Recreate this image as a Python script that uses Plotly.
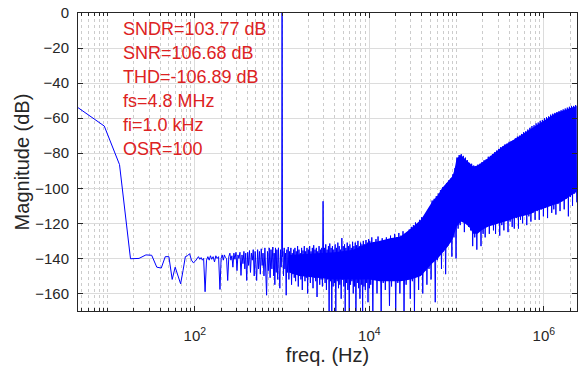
import numpy as np
import plotly.graph_objects as go

# ---------------- data ----------------
F_MIN = 4.578      # first FFT bin (Hz)
F_MAX = 2.4e6      # fs/2 (Hz)

# smooth low-frequency part (bins) : frequency (Hz), magnitude (dB)
low_f = [4.58, 9.16, 13.7, 18.3, 22.9, 27.5, 32.0, 36.6, 41.2, 45.8, 50.4,
         55.0, 59.5, 64.1, 68.7, 73.2, 77.8, 82.4, 87.0, 91.5, 96.1, 100.7]
low_db = [-54, -64.5, -86.5, -140.2, -140, -138, -138.2, -145, -145.5, -139,
          -139, -152, -145, -150, -154.5, -147, -139, -138.5, -137.3, -141,
          -142.5, -141.7]

# 100 Hz .. 1 kHz noise floor and the 1 kHz signal tone
mid_f = [110, 114, 118, 122, 126, 131, 136, 141, 146, 151, 156, 162, 168, 174,
         180, 187, 194, 200, 206, 212, 218, 224, 231, 238, 245, 252, 259, 266,
         273, 280, 288, 296, 304, 312, 320, 329, 338, 347, 356, 365, 374, 383,
         393, 403, 413, 423, 434, 445, 456, 467, 479, 491, 503, 511, 524, 537,
         550, 563, 577, 591, 605, 620, 635, 650, 664, 680, 696, 712, 729, 746,
         764, 782, 800, 812, 826, 840, 856, 872, 890, 908, 925, 942, 960, 975,
         990, 1000, 1010]
mid_db = [-139, -140.5, -139.5, -141, -140, -159, -141, -139, -141, -138.5,
          -140.5, -139, -142, -138.5, -140, -139, -157.7, -140, -138, -141,
          -138, -139.5, -140, -152.6, -139, -137, -141, -138.5, -145, -137,
          -140.5, -136.5, -147, -138, -140, -136.5, -149.7, -138, -143, -136,
          -146, -137, -152.6, -136.5, -144, -135.5, -148, -137, -141, -135,
          -150, -136, -143, -152.6, -135, -146, -136, -149, -134.5, -144,
          -137, -150, -134, -145, -161, -136, -147, -134, -151, -135, -146,
          -133.5, -150, -137, -155, -134, -148, -135, -152, -134, -146, -157,
          -135, -145, -138, 0, -139]

# 1 kHz .. 10 kHz : upper / lower excursions of the noise (dB)
c_start, c_stop = 1.02e3, 1.0e4
c_hi = [-136, -134, -137, -135, -133.5, -136, -134, -137, -135, -134,
        -136, -133, -135, -137, -134, -135.5, -133, -136, -134, -135,
        -133, -136, -134, -132.5, -135, -134, -136, -133, -135, -134,
        -107.4, -134, -132, -135, -133, -131.5, -134, -133, -135, -132,
        -134, -131, -133, -135, -128.4, -133, -132, -134, -131, -133,
        -132, -134, -130.5, -133, -131, -132.5, -130, -133, -131, -132,
        -130, -132, -129.5, -131, -129]
c_lo = [-150, -146, -161, -148, -152, -147, -155, -149, -151, -153,
        -148, -156, -150, -152, -158, -149, -153, -151, -160, -150,
        -154, -149, -157, -151, -153, -162, -150, -155, -152, -156,
        -151, -154, -158, -152, -170, -153, -170, -156, -154, -170,
        -153, -157, -155, -163, -152, -156, -170, -154, -158, -170,
        -155, -153, -160, -156, -170, -154, -157, -163, -155, -170,
        -156, -158, -154, -165, -157]

# 10 kHz .. 2.4 MHz : shaped quantisation noise, upper / lower excursions (dB)
d_start, d_stop = 1.01e4, 2.38e6
d_hi = [-130, -128, -131, -129, -127.5, -130, -128.5, -131, -128, -129.5,
        -127, -129, -126, -128, -125.5, -127, -124.5, -126, -125, -123.5,
        -122, -121, -119.5, -120, -118, -116.5, -117, -114.5, -113, -111,
        -107, -106, -104.5, -103, -101, -99.5, -99, -97, -95.5, -94.5,
        -92, -88.5, -82.5, -81, -80.5, -81.5, -82.5, -84, -85.5, -86,
        -87, -88, -86.5, -86, -85, -84, -83.5, -82, -81.5, -80.5,
        -79.5, -78.5, -77.5, -76.5, -76, -75, -74.5, -73.5, -73, -72.5,
        -71.5, -70.5, -70, -69, -68, -67.5, -66.5, -65.5, -64.5, -64,
        -63, -62.5, -61.5, -61, -60, -59.5, -59, -58, -57.5, -57,
        -56.5, -56, -55.5, -55, -54.5, -54, -53.5, -53, -53, -52.5]
d_lo = [-155, -170, -152, -160, -150, -170, -154, -158, -151, -167,
        -156, -152, -170, -154, -160, -152, -170, -155, -151, -163,
        -153, -170, -150, -158, -149, -160, -147, -155, -146, -152,
        -142, -165, -141, -138, -146, -136, -149, -133, -131, -139,
        -128, -140, -123, -121, -118, -125, -120, -122, -124, -133,
        -128, -135, -124, -133, -126, -128, -122, -126, -120, -124,
        -126, -119, -127, -121, -124, -118, -125, -119, -122, -123,
        -117, -123, -118, -120, -115, -121, -116, -119, -114, -118,
        -113, -118, -112, -116, -111, -117, -110, -114, -112, -115,
        -109, -113, -107, -112, -106, -116, -105, -110, -103, -108]

# solid core of the noise band: frequency (Hz), top and bottom (dB)
band_f = [1.2e3, 1.6e3, 2.5e3, 4e3, 6.5e3, 10e3, 13.1e3, 17.3e3, 22.8e3, 30e3,
          39e3, 52e3, 61e3, 68e3, 80e3, 90e3, 95e3, 100e3, 112e3, 124e3,
          139e3, 155e3, 174e3, 194e3, 228e3, 268e3, 317e3, 352e3, 415e3,
          463e3, 545e3, 610e3, 718e3, 802e3, 946e3, 1.05e6, 1.24e6, 1.39e6,
          1.63e6, 1.82e6, 2.03e6, 2.38e6]
band_top = [-138, -137.5, -137, -136.5, -135, -131, -130, -128.5, -127.5, -123,
            -118, -108, -104, -100, -96, -93, -89, -83, -81, -83,
            -85.5, -87.5, -87, -85.5, -83, -80, -77, -75.5, -73.5,
            -72, -69.5, -68, -65.5, -64, -62, -60.5, -58.5, -57,
            -56, -55, -54, -53]
band_bot = [-148, -150, -151, -152, -152, -152, -153, -153, -153, -152,
            -150, -143, -140, -137, -133, -129, -126, -122, -119, -120,
            -122, -126, -126, -124, -122, -121, -120, -119, -118,
            -117, -116, -115.5, -114.5, -113, -112, -111, -110, -109,
            -107.5, -106, -104.5, -102]

# text box
info_lines = ["SNDR=103.77 dB", "SNR=106.68 dB", "THD=-106.89 dB",
              "fs=4.8 MHz", "fi=1.0 kHz", "OSR=100"]

# axis ticks
x_tick_vals = [1e2, 1e4, 1e6]
x_tick_text = ["10<sup>2</sup>", "10<sup>4</sup>", "10<sup>6</sup>"]
y_tick_vals = [0, -20, -40, -60, -80, -100, -120, -140, -160]

# ---------------- assemble the spectrum trace ----------------
def interleave(hi, lo):
    out = []
    for a, b in zip(hi, lo):
        out += [a, b]
    return out

c_db = interleave(c_hi, c_lo)
d_db = interleave(d_hi, d_lo)
c_f = list(np.geomspace(c_start, c_stop, len(c_db)))
d_f = list(np.geomspace(d_start, d_stop, len(d_db)))

spec_f = low_f + mid_f + c_f + d_f
spec_db = low_db + mid_db + c_db + d_db

BLUE = "#0000ff"
INK = "#262626"

fig = go.Figure()
fig.add_trace(go.Scatter(
    x=band_f + band_f[::-1], y=band_top + band_bot[::-1],
    mode="lines", fill="toself", fillcolor=BLUE,
    line=dict(width=0, color=BLUE), hoverinfo="skip"))
fig.add_trace(go.Scatter(
    x=spec_f, y=spec_db, mode="lines",
    line=dict(color=BLUE, width=1)))

# minor ticks: 1..9 x 10^k (not on labelled decades)
minor_vals = [k * 10 ** e for e in range(0, 7) for k in range(1, 10)
              if F_MIN <= k * 10 ** e <= F_MAX and k * 10 ** e not in x_tick_vals]

for i, line in enumerate(info_lines):
    fig.add_annotation(
        text=line, xref="paper", yref="y", x=0.086, y=-9.1 - 13.7 * i,
        xanchor="left", yanchor="middle", showarrow=False,
        font=dict(size=18, color="#dd2222"))

fig.update_layout(
    width=581, height=369,
    margin=dict(l=78, r=4, t=13, b=58),
    paper_bgcolor="white", plot_bgcolor="white",
    showlegend=False,
    font=dict(family="Liberation Sans, Arial, sans-serif", size=15, color=INK),
    xaxis=dict(
        type="log", range=[np.log10(F_MIN), np.log10(F_MAX)], automargin=False,
        tickmode="array", tickvals=x_tick_vals, ticktext=x_tick_text,
        ticks="inside", ticklen=5, tickcolor=INK, tickwidth=1,
        showline=True, linecolor=INK, linewidth=1, mirror="ticks",
        showgrid=True, gridcolor="#dcdcdc", gridwidth=1, zeroline=False,
        minor=dict(tickmode="array", tickvals=minor_vals, ticks="inside",
                   ticklen=3, tickcolor=INK, showgrid=True,
                   gridcolor="#cccccc", griddash="dot", gridwidth=1),
        title=dict(text="freq. (Hz)", font=dict(size=20, color=INK), standoff=3),
        ticklabelstandoff=11,
    ),
    yaxis=dict(
        range=[-170, 0], tickmode="array", tickvals=y_tick_vals, automargin=False,
        ticks="inside", ticklen=5, tickcolor=INK, tickwidth=1,
        showline=True, linecolor=INK, linewidth=1, mirror="ticks",
        showgrid=True, gridcolor="#dcdcdc", gridwidth=1, zeroline=False,
        title=dict(text="Magnitude (dB)", font=dict(size=20, color=INK), standoff=0),
        ticklabelstandoff=5,
    ),
)

# the page should show the figure flush with the window's corner
fig.write_html("out.html",
               config={"displayModeBar": False},
               post_script="document.body.style.margin='0px';"
                           "document.body.style.overflow='hidden';")
